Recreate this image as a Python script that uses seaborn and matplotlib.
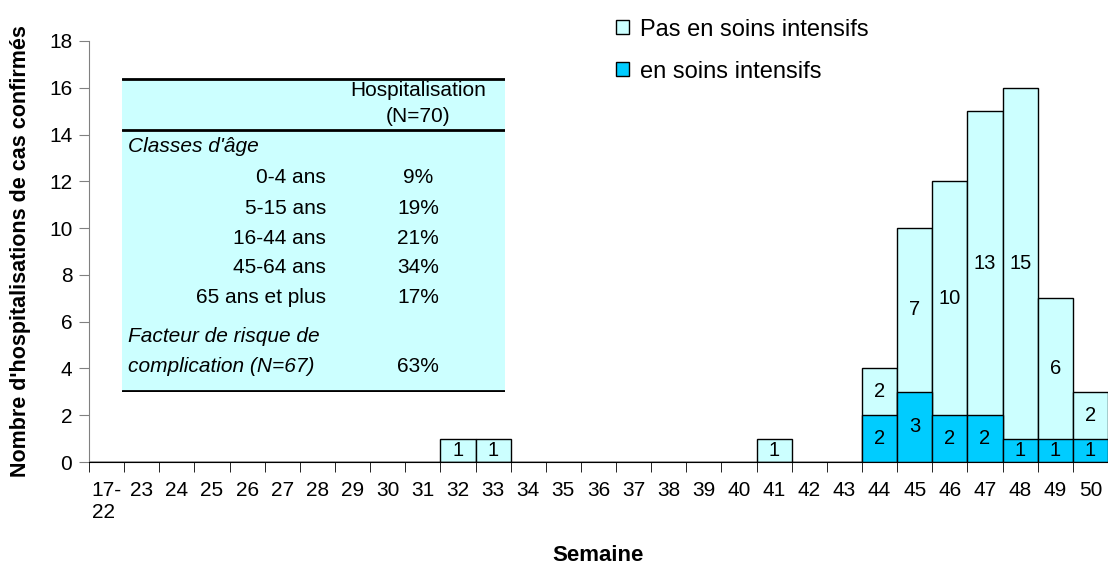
import numpy as np
import pandas as pd
import matplotlib.pyplot as plt
from matplotlib.patches import Patch
import seaborn as sns

# Data
weeks = ["17-\n22"] + [str(w) for w in range(23, 51)]
intensive = [0] * 29
non_intensive = [0] * 29
intensive_vals = {"44": 2, "45": 3, "46": 2, "47": 2, "48": 1, "49": 1, "50": 1}
non_intensive_vals = {"32": 1, "33": 1, "41": 1, "44": 2, "45": 7, "46": 10,
                      "47": 13, "48": 15, "49": 6, "50": 2}
for i, w in enumerate(weeks):
    intensive[i] = intensive_vals.get(w, 0)
    non_intensive[i] = non_intensive_vals.get(w, 0)

age_classes = ["0-4 ans", "5-15 ans", "16-44 ans", "45-64 ans", "65 ans et plus"]
age_pct = ["9%", "19%", "21%", "34%", "17%"]
risk_pct = "63%"

df = pd.DataFrame({"semaine": weeks, "intensifs": intensive, "non_intensifs": non_intensive})
df["total"] = df["intensifs"] + df["non_intensifs"]

LIGHT = "#CCFFFF"
DARK = "#00CCFF"
FS = 15

sns.set_style("white")
plt.rcParams["font.family"] = ["Liberation Sans", "DejaVu Sans"]
plt.rcParams["text.color"] = "black"
plt.rcParams["axes.labelcolor"] = "black"
plt.rcParams["xtick.labelcolor"] = "black"
plt.rcParams["ytick.labelcolor"] = "black"

fig = plt.figure(figsize=(11.08, 5.67), dpi=100)
W, H = 1108, 567
ax = fig.add_axes([89 / W, 1 - 462 / H, (W - 89) / W, (462 - 41) / H])

# stacked bars: total first, intensive on top
sns.barplot(data=df, x="semaine", y="total", order=weeks, color=LIGHT, saturation=1,
            edgecolor="black", linewidth=1, width=1, ax=ax)
sns.barplot(data=df, x="semaine", y="intensifs", order=weeks, color=DARK, saturation=1,
            edgecolor="black", linewidth=1, width=1, ax=ax)

for i, row in df.iterrows():
    if row["intensifs"] > 0:
        ax.text(i, row["intensifs"] / 2, str(row["intensifs"]), ha="center", va="center", fontsize=14.5)
    if row["non_intensifs"] > 0:
        ax.text(i, row["intensifs"] + row["non_intensifs"] / 2, str(row["non_intensifs"]),
                ha="center", va="center", fontsize=14.5)

ax.set_xlim(-0.5, 28.5)
ax.set_ylim(0, 18)
ax.set_yticks(range(0, 19, 2))
ax.tick_params(axis="y", left=True, length=7, color="#808080", labelcolor="black", labelsize=FS, pad=5)
ax.set_xticks(range(len(weeks)))
ax.set_xticklabels(weeks, fontsize=FS)
ax.get_xticklabels()[0].set_multialignment("left")
ax.tick_params(axis="x", which="major", length=0, pad=14, labelcolor="black")
ax.set_xticks(np.arange(-0.5, 29, 1), minor=True)
ax.tick_params(axis="x", which="minor", bottom=True, length=7, color="black")
for s in ["top", "right"]:
    ax.spines[s].set_visible(False)
ax.spines["left"].set_color("#808080")
ax.spines["bottom"].set_color("black")
ax.set_xlabel("Semaine", fontsize=16, fontweight="bold", labelpad=16)
ax.set_ylabel("Nombre d'hospitalisations de cas confirmés", fontsize=15.5, fontweight="bold", labelpad=13)

# legend
handles = [Patch(facecolor=LIGHT, edgecolor="black", label="Pas en soins intensifs"),
           Patch(facecolor=DARK, edgecolor="black", label="en soins intensifs")]
fig.legend(handles=handles, loc="upper left", bbox_to_anchor=(599 / W, 1 - 2 / H),
           frameon=False, fontsize=17, handlelength=0.55, handleheight=0.55,
           handletextpad=0.5, labelspacing=0.85, borderpad=0.2)

# inset table
tx, ty, tw, th = 122, 78, 383, 314
tab = fig.add_axes([tx / W, 1 - (ty + th) / H, tw / W, th / H])
tab.set_facecolor(LIGHT)
tab.set_xlim(tx, tx + tw)
tab.set_ylim(ty + th, ty)
tab.set_xticks([])
tab.set_yticks([])
for s in tab.spines.values():
    s.set_visible(False)
for yl in [ty + 1, 130, ty + th - 1]:
    tab.axhline(yl, color="black", linewidth=2)

tab.text(418, 91, "Hospitalisation", ha="center", va="center", fontsize=FS)
tab.text(418, 117, "(N=70)", ha="center", va="center", fontsize=FS)
tab.text(128, 147, "Classes d'âge", ha="left", va="center", fontsize=FS, style="italic")
for yy, lab, pct in zip([178, 209, 239, 268, 298], age_classes, age_pct):
    tab.text(326, yy, lab, ha="right", va="center", fontsize=FS)
    tab.text(418, yy, pct, ha="center", va="center", fontsize=FS)
tab.text(128, 337, "Facteur de risque de", ha="left", va="center", fontsize=FS, style="italic")
tab.text(128, 367, "complication (N=67)", ha="left", va="center", fontsize=FS, style="italic")
tab.text(418, 367, risk_pct, ha="center", va="center", fontsize=FS)

fig.savefig("out.png", dpi=100)
